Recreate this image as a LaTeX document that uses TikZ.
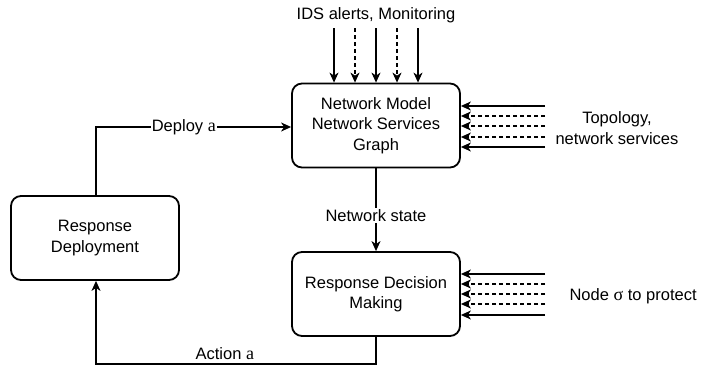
\documentclass[tikz,border=0pt]{standalone}
\usepackage{fontspec}
\setmainfont{Liberation Sans}
\newfontfamily\serifa{Liberation Serif}
\usetikzlibrary{arrows.meta}
\newcommand{\sera}[1]{{\serifa\fontsize{18}{18}\selectfont #1}}
\begin{document}
\begin{tikzpicture}[x=1pt,y=-1pt,
  txt/.style={font=\fontsize{16.5}{20.5}\selectfont},
  box/.style={txt,draw,line width=1.8pt,rounded corners=10pt,minimum width=168pt,minimum height=84pt,align=center,inner sep=0pt},
  conn/.style={line width=1.1pt,-{Stealth[length=10pt,width=9pt,inset=3pt]}},
  dsh/.style={conn,dash pattern=on 4pt off 3pt},
  lbl/.style={txt,fill=white,inner sep=1pt}]
\useasboundingbox (0,0) rectangle (704,367);
\node[box] (top) at (376,125.5) {Network Model\\Network Services\\Graph};
\node[box] (bot) at (376,294) {Response Decision\\Making};
\node[box] (left) at (95,238) {Response\\Deployment};
% top inputs
\node[txt] (ids) at (376,15) {IDS alerts, Monitoring};
\foreach \x/\s [count=\i] in {334/conn,355/dsh,376/conn,397/dsh,418/conn}{
  \coordinate (t\i) at (\x,28);
  \draw[\s] (t\i) -- (t\i |- top.north);
}
% right inputs to top
\foreach \y/\s [count=\i] in {106/conn,116/dsh,126/dsh,137/dsh,147/conn}{
  \coordinate (r\i) at (545,\y);
  \draw[\s] (r\i) -- (r\i -| top.east);
}
\node[txt,align=center] (topo) at (617,128) {Topology,\\network services};
% right inputs to bottom
\foreach \y/\s [count=\i] in {274/conn,284/dsh,294/dsh,304/dsh,315/conn}{
  \coordinate (q\i) at (545,\y);
  \draw[\s] (q\i) -- (q\i -| bot.east);
}
\node[txt,anchor=west] (sig) at (566,296) {Node \sera{σ} to protect};
% network state
\draw[conn] (top.south) -- node[lbl,pos=0.57] {Network state} (bot.north);
% deploy
\coordinate (dk) at (96,127);
\draw[conn] (left.north -| dk) -- (dk) -- node[lbl,pos=0.45] {Deploy \sera{a}} (dk -| top.west);
% action
\coordinate (ak) at (376,364);
\draw[conn] (bot.south) -- (ak) -- node[txt,above=0pt,pos=0.54] {Action \sera{a}} (ak -| dk) -- (left.south -| dk);
\end{tikzpicture}
\end{document}
